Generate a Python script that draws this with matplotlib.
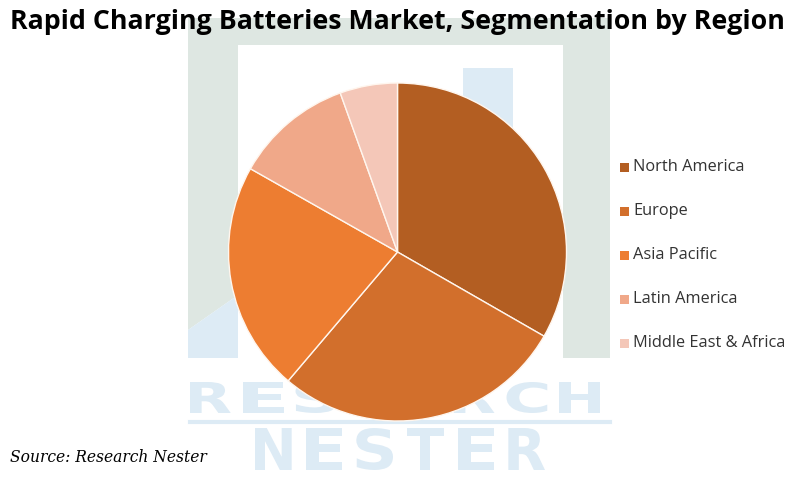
import matplotlib
matplotlib.use("Agg")
import matplotlib.pyplot as plt
from matplotlib.patches import Rectangle, Polygon, PathPatch
from matplotlib.textpath import TextPath
from matplotlib.font_manager import FontProperties
from matplotlib.transforms import Affine2D

regions = ["North America", "Europe", "Asia Pacific", "Latin America", "Middle East & Africa"]
shares = [33.3, 27.9, 22.0, 11.3, 5.5]
colors = ["#B35E22", "#D26F2C", "#ED7D31", "#F0A889", "#F4C7B8"]
title = "Rapid Charging Batteries Market, Segmentation by Region"
source = "Source: Research Nester"

W, H = 796, 478
fig = plt.figure(figsize=(W / 100, H / 100), dpi=100)
fig.patch.set_facecolor("white")

# background watermark axes in pixel coordinates
bg = fig.add_axes([0, 0, 1, 1])
bg.set_xlim(0, W)
bg.set_ylim(H, 0)
bg.axis("off")
green = "#DEE7E2"
blue = "#DDEBF5"
bg.add_patch(Polygon([(188, 18), (610, 18), (610, 358), (563, 358), (563, 45),
                      (238, 45), (238, 295), (188, 330)], closed=True, fc=green, ec="none"))
bg.add_patch(Polygon([(188, 330), (238, 295), (238, 358), (188, 358)], closed=True, fc=blue, ec="none"))
bg.add_patch(Rectangle((463, 68), 50, 290, fc=blue, ec="none"))
bg.plot([190, 610], [422, 422], color=blue, lw=3)

fp = FontProperties(family="DejaVu Sans", weight="bold")

def boxed(word, x0, x1, ytop, ybot, gap):
    n = len(word)
    lw = (x1 - x0 - gap * (n - 1)) / n
    for i, ch in enumerate(word):
        tp = TextPath((0, 0), ch, size=100, prop=fp)
        ext = tp.get_extents()
        sx = lw / ext.width
        sy = (ybot - ytop) / ext.height
        lx = x0 + i * (lw + gap)
        tr = (Affine2D().translate(-ext.x0, -ext.y0).scale(sx, -sy)
              .translate(lx, ybot))
        bg.add_patch(PathPatch(tr.transform_path(tp), fc=blue, ec="none"))

boxed("RESEARCH", 190, 600, 382, 413, 12)
boxed("NESTER", 255, 545, 428, 470, 14)

# pie axes
cx, cy, r = 397.5, 252, 169
ax = fig.add_axes([(cx - r) / W, 1 - (cy + r) / H, 2 * r / W, 2 * r / H])
ax.pie(shares, colors=colors, startangle=90, counterclock=False,
       wedgeprops=dict(edgecolor="#FFF6EE", linewidth=1))
ax.set_xlim(-1, 1)
ax.set_ylim(-1, 1)
ax.set_aspect("equal")
ax.axis("off")

# legend (manual, in pixel axes)
ys = [167, 211, 255, 299, 343]
for lab, col, y in zip(regions, colors, ys):
    bg.add_patch(Rectangle((620, y - 4.5), 9, 9, fc=col, ec="none"))
    bg.text(633, y, lab, ha="left", va="center", fontsize=11.8, color="#333333",
            family="Open Sans")

# title fitted to width
t = bg.text(10, 22, title, ha="left", va="center", fontsize=20, fontweight="bold",
            color="black", family="Open Sans")
fig.canvas.draw()
bb = t.get_window_extent()
t.set_fontsize(20 * 773 / bb.width)

bg.text(10, 458, source, ha="left", va="center", fontsize=11.2, style="italic",
        color="black", family="DejaVu Serif")

fig.savefig("out.png", dpi=100)
